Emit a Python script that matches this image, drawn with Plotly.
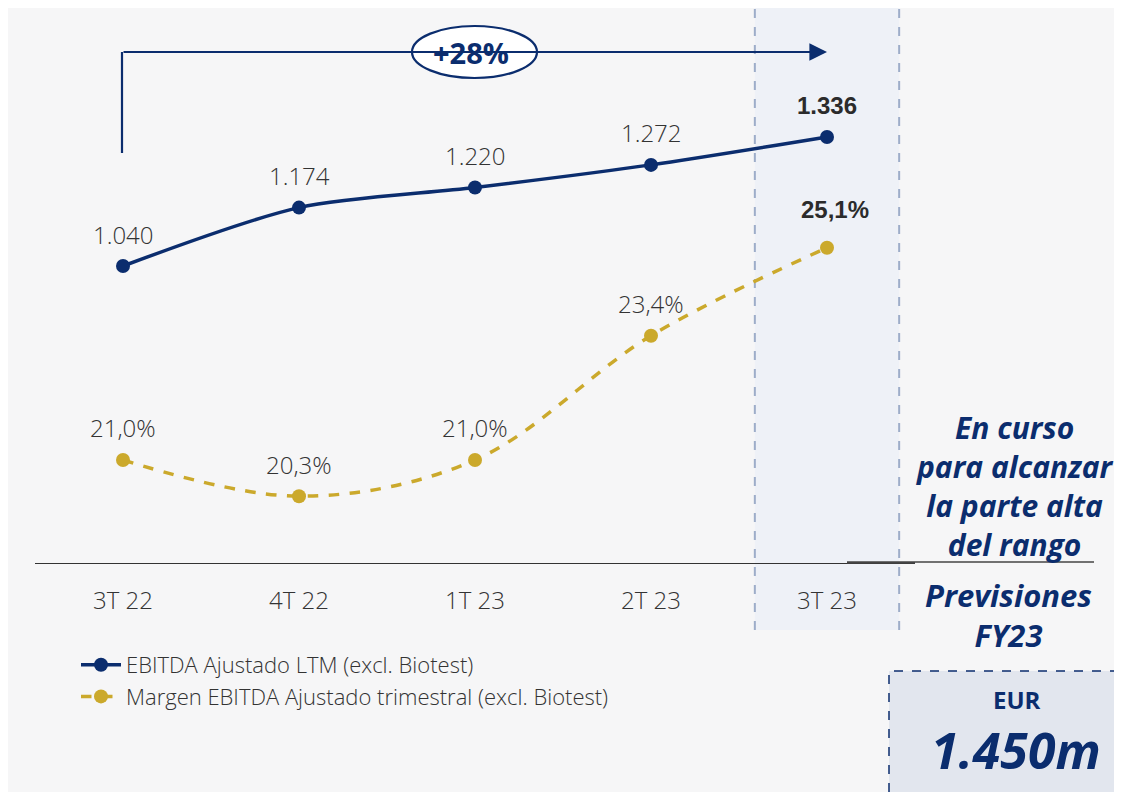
import plotly.graph_objects as go

# ---- data ----
categories = ["3T 22", "4T 22", "1T 23", "2T 23", "3T 23"]
ebitda_ltm = [1040, 1174, 1220, 1272, 1336]
margin_pct = [21.0, 20.3, 21.0, 23.4, 25.1]
series_names = ["EBITDA Ajustado LTM (excl. Biotest)",
                "Margen EBITDA Ajustado trimestral (excl. Biotest)"]
growth_label = "+28%"
side_text = "En curso<br>para alcanzar<br>la parte alta<br>del rango"
guidance_title = "Previsiones<br>FY23"
guidance_unit = "EUR"
guidance_value = "1.450m"

# page body has an 8px margin; the figure fills the rest of the 1122x792 window
OFF = 8
W, H = 1122 - OFF, 792 - OFF
NAVY = "#0b2d6e"
GOLD = "#cba92c"
TXT = "#333333"
BASEFONT = "Open Sans"
BOLDFONT = "Open Sans"


def py(p):
    return 1 - (p - OFF) / H


def px_(p):
    return (p - OFF) / W


fig = go.Figure()

fig.add_trace(go.Scatter(
    x=categories, y=ebitda_ltm, name=series_names[0], mode="lines+markers",
    line=dict(color=NAVY, width=3.5, shape="spline", smoothing=0.8),
    marker=dict(color=NAVY, size=14), yaxis="y", cliponaxis=False))
fig.add_trace(go.Scatter(
    x=categories, y=margin_pct, name=series_names[1], mode="lines+markers",
    line=dict(color=GOLD, width=3.5, shape="spline", dash="dash", smoothing=1.0),
    marker=dict(color=GOLD, size=14), yaxis="y2", cliponaxis=False))

annotations = []
last = len(categories) - 1
for i, (c, v) in enumerate(zip(categories, ebitda_ltm)):
    bold = i == last
    annotations.append(dict(
        x=c, y=v, xref="x", yref="y", yshift=32, xanchor="center", yanchor="middle",
        text=f"{v:,.0f}".replace(",", "."), showarrow=False,
        font=dict(family="Liberation Sans" if bold else BASEFONT, size=24,
                  color="#2b2b2b" if bold else TXT, weight=700 if bold else 300)))
for i, (c, v) in enumerate(zip(categories, margin_pct)):
    bold = i == last
    annotations.append(dict(
        x=c, y=v, xref="x", yref="y2", yshift=38 if bold else 32, xshift=8 if bold else 0,
        xanchor="center", yanchor="middle",
        text=f"{v:.1f}%".replace(".", ","), showarrow=False,
        font=dict(family="Liberation Sans" if bold else BASEFONT, size=24,
                  color="#2b2b2b" if bold else TXT, weight=700 if bold else 300)))

# growth arrow
annotations.append(dict(
    x=px_(827), y=py(52), xref="paper", yref="paper",
    ax=-(827 - 122), ay=0, axref="pixel", ayref="pixel",
    text="", showarrow=True, arrowhead=2, arrowsize=1.6, arrowwidth=2.2, arrowcolor=NAVY))
annotations.append(dict(
    x=px_(471), y=py(52), xref="paper", yref="paper", text=f"<b>{growth_label}</b>",
    xanchor="center", yanchor="middle",
    showarrow=False, font=dict(family="Open Sans", size=29, color=NAVY)))

# right side texts
annotations.append(dict(
    x=px_(1015), y=py(486), xref="paper", yref="paper", text=f"<b><i>{side_text}</i></b>",
    xanchor="center", yanchor="middle",
    showarrow=False, align="center", font=dict(family=BOLDFONT, size=30, color=NAVY)))
annotations.append(dict(
    x=px_(1008), y=py(615), xref="paper", yref="paper", text=f"<b><i>{guidance_title}</i></b>",
    xanchor="center", yanchor="middle",
    showarrow=False, align="center", font=dict(family=BOLDFONT, size=31, color=NAVY)))
annotations.append(dict(
    x=px_(1017), y=py(699), xref="paper", yref="paper", text=f"<b>{guidance_unit}</b>",
    xanchor="center", yanchor="middle",
    showarrow=False, font=dict(family=BOLDFONT, size=24, color=NAVY)))
annotations.append(dict(
    x=px_(1016), y=py(750), xref="paper", yref="paper", text=f"<b><i>{guidance_value}</i></b>",
    xanchor="center", yanchor="middle",
    showarrow=False, font=dict(family=BOLDFONT, size=50, color=NAVY)))

shapes = [
    # highlight column
    dict(type="rect", xref="x", yref="paper", x0=last - 0.41, x1=last + 0.41,
         y0=py(630), y1=py(8), fillcolor="#eef1f7", line=dict(width=0), layer="below"),
    dict(type="line", xref="x", yref="paper", x0=last - 0.41, x1=last - 0.41,
         y0=py(630), y1=py(8), line=dict(color="#9dadc9", width=2, dash="dash"), layer="below"),
    dict(type="line", xref="x", yref="paper", x0=last + 0.41, x1=last + 0.41,
         y0=py(630), y1=py(8), line=dict(color="#9dadc9", width=2, dash="dash"), layer="below"),
    # arrow vertical leg
    dict(type="line", xref="paper", yref="paper", x0=px_(122), x1=px_(122),
         y0=py(153), y1=py(52), line=dict(color=NAVY, width=2.2)),
    # ellipse
    dict(type="circle", xref="paper", yref="paper", x0=px_(412), x1=px_(537),
         y0=py(78), y1=py(26), fillcolor="white", line=dict(color=NAVY, width=2.2)),
    # separator line on the right
    dict(type="line", xref="paper", yref="paper", x0=px_(847), x1=px_(915),
         y0=py(562.5), y1=py(562.5), line=dict(color="#444", width=2.5)),
    dict(type="line", xref="paper", yref="paper", x0=px_(915), x1=px_(1094),
         y0=py(562), y1=py(562), line=dict(color="#444", width=1.3)),
    # guidance box
    dict(type="rect", xref="paper", yref="paper", x0=px_(889), x1=px_(1135),
         y0=py(805), y1=py(671), fillcolor="#e2e6ee",
         line=dict(color=NAVY, width=1.5, dash="dash"), layer="below"),
]

fig.update_layout(
    width=W, height=H,
    margin=dict(l=0, r=0, t=0, b=0),
    paper_bgcolor="#f6f6f7", plot_bgcolor="rgba(0,0,0,0)",
    showlegend=True,
    legend=dict(x=px_(76), y=py(644), xanchor="left", yanchor="top",
                bgcolor="rgba(0,0,0,0)", font=dict(family=BASEFONT, size=22, color=TXT, weight=300),
                tracegroupgap=0, itemwidth=40),
    xaxis=dict(domain=[px_(35), px_(915)], range=[-0.5, 4.5], type="category",
               showgrid=False, zeroline=False, showline=True, linecolor="#333", linewidth=1.3,
               ticks="", ticklabelstandoff=16,
               tickfont=dict(family=BASEFONT, size=24, color=TXT, weight=300)),
    yaxis=dict(domain=[py(563), 1], range=[358.5, 1632.0], visible=False, showgrid=False),
    yaxis2=dict(domain=[py(563), 1], range=[19.01, 29.73], overlaying="y", visible=False,
                showgrid=False),
    annotations=annotations,
    shapes=shapes,
)

fig.write_html("out.html")
